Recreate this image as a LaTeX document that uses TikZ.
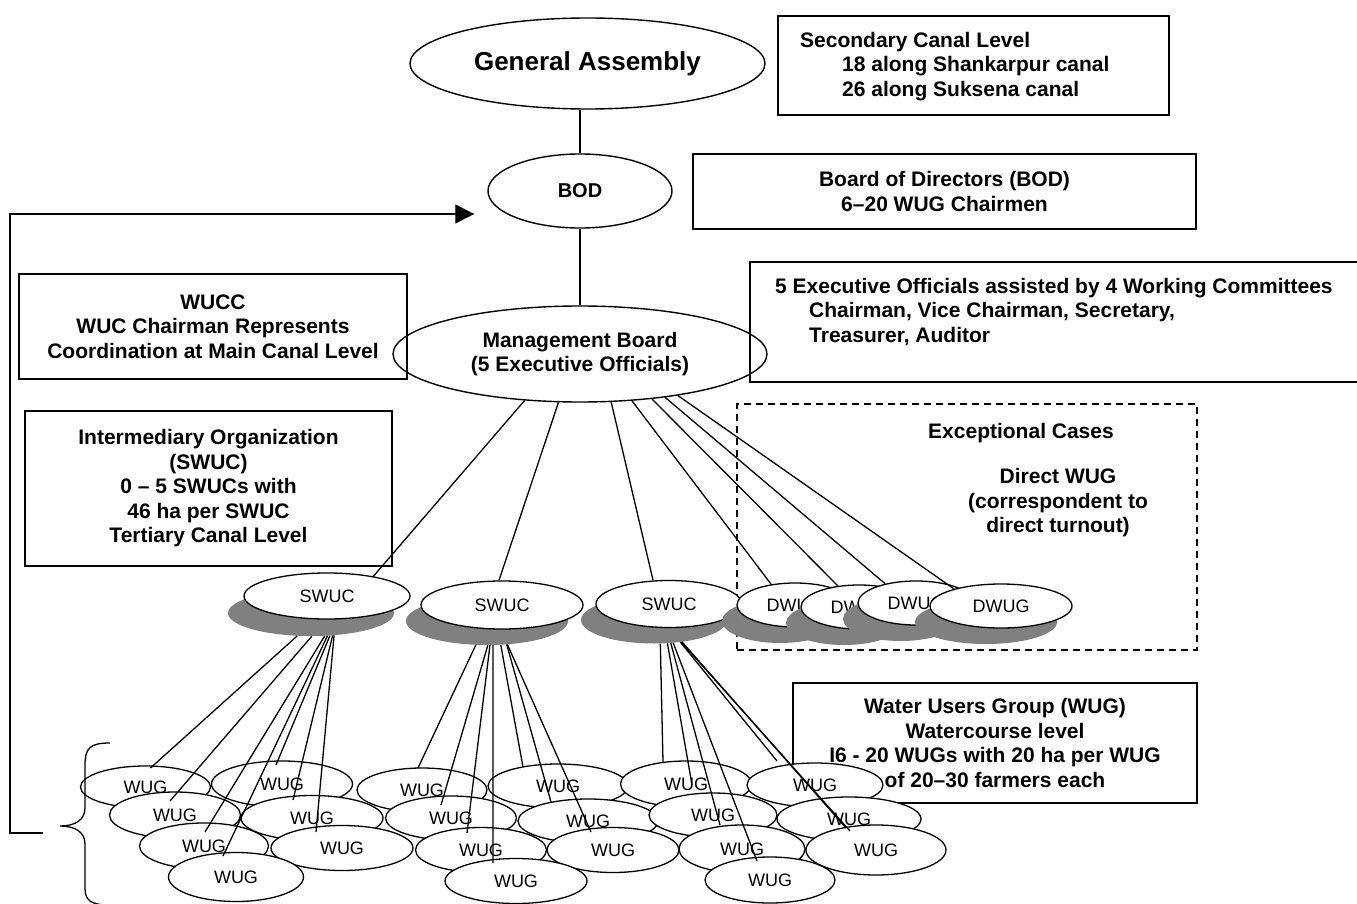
\documentclass[tikz,border=0pt]{standalone}
\usepackage{fontspec}
\setmainfont{Liberation Sans}
\usetikzlibrary{shapes.geometric,arrows.meta}
\definecolor{shadowgray}{RGB}{128,128,128}
\begin{document}
\begin{tikzpicture}%
	[x={(1pt, 0pt)},
	y={(0pt, -1pt)},
	conn/.style={color=black, line width=1.3pt},
	box/.style={rectangle, draw=black, line width=1.4pt, inner sep=0pt},
	dashbox/.style={rectangle, draw=black, line width=1.4pt, dash pattern=on 7pt off 5pt, inner sep=0pt},
	boxtext/.style={inner sep=0pt, font=\fontsize{21}{24.5}\selectfont\bfseries},
	org/.style={ellipse, draw=black, line width=1.4pt, inner sep=0pt, font=\fontsize{21}{24.5}\selectfont\bfseries},
	wugnode/.style={ellipse, draw=black, line width=1.3pt, fill=white, inner sep=0pt, font=\fontsize{18}{21}\selectfont},
	dropshade/.style={ellipse, fill=shadowgray, inner sep=0pt},
	feedback/.style={color=black, line width=1.3pt, -{Triangle[length=19pt, width=19pt]}}]
%
\useasboundingbox (0, 0) rectangle (1357, 904);
%%
%% Drawing the association levels
%%
\node[org, minimum width=355pt, minimum height=91pt, font=\fontsize{26}{30}\selectfont\bfseries] (assembly) at (587.5, 63.5) {General Assembly};
\node[org, minimum width=184pt, minimum height=74pt, font=\fontsize{20}{24}\selectfont\bfseries] (bod) at (580, 191) {BOD};
\node[org, minimum width=374pt, minimum height=96pt, align=center] (mboard) at (580, 354) {Management Board\\(5 Executive Officials)};
\draw[conn] (assembly.south -| bod) -- (bod.north);
\draw[conn] (bod.south) -- (mboard.north);
%%
%% Drawing the boxes
%%
\node[box, minimum width=391pt, minimum height=99pt] (canallevel) at (973.5, 65.5) {};
\node[boxtext, anchor=north west, align=left] (canallevel-text) at (800, 32) {Secondary Canal Level\\\hspace*{42pt}18 along Shankarpur canal\\\hspace*{42pt}26 along Suksena canal};
\node[box, boxtext, minimum width=503pt, minimum height=75pt, align=center] (bodbox) at (944.5, 191.5) {Board of Directors (BOD)\\6–20 WUG Chairmen};
\node[box, minimum width=650pt, minimum height=120pt] (mbbox) at (1075, 322) {};
\node[boxtext, anchor=north west, align=left] (mbbox-text) at (775, 278) {5 Executive Officials assisted by 4 Working Committees\\\hspace*{34pt}Chairman, Vice Chairman, Secretary,\\\hspace*{34pt}Treasurer, Auditor};
\node[box, boxtext, minimum width=388pt, minimum height=105pt, align=center] (wucc) at (213, 326.5) {WUCC\\WUC Chairman Represents\\Coordination at Main Canal Level};
\node[box, boxtext, minimum width=367pt, minimum height=155pt, align=center] (interorg) at (208.5, 488.5) {Intermediary Organization\\(SWUC)\\0 – 5 SWUCs with\\46 ha per SWUC\\Tertiary Canal Level};
\node[dashbox, minimum width=460pt, minimum height=246pt] (exceptional) at (967, 527) {};
\node[boxtext] (exceptional-title) at (1021, 433) {Exceptional Cases};
\node[boxtext, align=center] (directwug) at (1058, 503) {Direct WUG\\(correspondent to\\direct turnout)};
\node[box, boxtext, minimum width=404pt, minimum height=120pt, align=center] (wugbox) at (995, 743) {Water Users Group (WUG)\\Watercourse level\\I6 - 20 WUGs with 20 ha per WUG\\of 20–30 farmers each};
%%
%% Drawing the SWUC and direct WUG level
%%
\node[dropshade, minimum width=166pt, minimum height=46pt] (swuc1sh) at (311, 613) {};
\node[wugnode, minimum width=166pt, minimum height=46pt] (swuc1) at (327, 596) {SWUC};
\node[dropshade, minimum width=162pt, minimum height=48pt] (swuc2sh) at (487, 621) {};
\node[wugnode, minimum width=162pt, minimum height=48pt] (swuc2) at (502, 605) {SWUC};
\node[dropshade, minimum width=146pt, minimum height=47pt] (swuc3sh) at (654, 620) {};
\node[wugnode, minimum width=146pt, minimum height=47pt] (swuc3) at (669, 604) {SWUC};
\node[dropshade, minimum width=116pt, minimum height=44pt] (dw1sh) at (780, 621) {};
\node[wugnode, minimum width=116pt, minimum height=44pt] (dw1) at (795, 605) {DWUG};
\node[dropshade, minimum width=116pt, minimum height=44pt] (dw2sh) at (844, 623) {};
\node[wugnode, minimum width=116pt, minimum height=44pt] (dw2) at (859, 607) {DWUG};
\node[dropshade, minimum width=116pt, minimum height=44pt] (dw3sh) at (901, 619) {};
\node[wugnode, minimum width=116pt, minimum height=44pt] (dw3) at (916, 603) {DWUG};
\node[dropshade, minimum width=142pt, minimum height=44pt] (dwugsh) at (986, 622) {};
\node[wugnode, minimum width=142pt, minimum height=44pt] (dwug) at (1001, 606) {DWUG};
%%
\draw[conn] (mboard.220) -- (swuc1.23);
\draw[conn] (mboard.246) -- (swuc2.97);
\draw[conn] (mboard.303) -- (swuc3.124);
\draw[conn] (mboard.318) -- (dw1.139);
\draw[conn] (mboard.328) -- (dw2.135);
\draw[conn] (mboard.333) -- (dw3.148);
\draw[conn] (mboard.337) -- (dwug.160);
%%
%% Drawing the WUG level
%%
\node[wugnode, minimum width=130pt, minimum height=42pt] (w1a) at (145.5, 787) {WUG};
\node[wugnode, minimum width=141pt, minimum height=46pt] (w1b) at (282, 784) {WUG};
\node[wugnode, minimum width=131pt, minimum height=46pt] (w1c) at (175, 815) {WUG};
\node[wugnode, minimum width=142pt, minimum height=45pt] (w1d) at (312, 818) {WUG};
\node[wugnode, minimum width=129pt, minimum height=46pt] (w1e) at (204, 846) {WUG};
\node[wugnode, minimum width=142pt, minimum height=45pt] (w1f) at (342, 848) {WUG};
\node[wugnode, minimum width=135pt, minimum height=49pt] (w1g) at (236, 877) {WUG};
%%
\node[wugnode, minimum width=130pt, minimum height=44pt] (w2a) at (422, 790) {WUG};
\node[wugnode, minimum width=140pt, minimum height=44pt] (w2b) at (558, 786) {WUG};
\node[wugnode, minimum width=131pt, minimum height=44pt] (w2c) at (451, 818) {WUG};
\node[wugnode, minimum width=140pt, minimum height=44pt] (w2d) at (588, 821) {WUG};
\node[wugnode, minimum width=131pt, minimum height=45pt] (w2e) at (481, 850) {WUG};
\node[wugnode, minimum width=132pt, minimum height=45pt] (w2f) at (613, 850) {WUG};
\node[wugnode, minimum width=142pt, minimum height=45pt] (w2g) at (516, 881) {WUG};
%%
\node[wugnode, minimum width=131pt, minimum height=46pt] (w3a) at (686, 784) {WUG};
\node[wugnode, minimum width=136pt, minimum height=44pt] (w3b) at (815, 785) {WUG};
\node[wugnode, minimum width=128pt, minimum height=44pt] (w3c) at (713, 815) {WUG};
\node[wugnode, minimum width=144pt, minimum height=44pt] (w3d) at (849, 819) {WUG};
\node[wugnode, minimum width=126pt, minimum height=48pt] (w3e) at (742, 849) {WUG};
\node[wugnode, minimum width=140pt, minimum height=50pt] (w3f) at (876, 850) {WUG};
\node[wugnode, minimum width=130pt, minimum height=46pt] (w3g) at (770, 880) {WUG};
%%
%% Drawing the SWUC to WUG links
%%
\draw[conn] (swuc1sh.239) -- ([shift={(5, -19)}]w1a.center);
\draw[conn] (swuc1sh.272) -- ([shift={(-5, -14)}]w1c.center);
\draw[conn] (swuc1sh.301) -- ([shift={(1, -14)}]w1e.center);
\draw[conn] (swuc1sh.306) -- ([shift={(-13, -21)}]w1g.center);
\draw[conn] (swuc1sh.310) -- ([shift={(-6, -19)}]w1b.center);
\draw[conn] (swuc1sh.314) -- ([shift={(-19, -18)}]w1d.center);
\draw[conn] (swuc1sh.316) -- ([shift={(-26, -16)}]w1f.center);
%%
\draw[conn] (swuc2sh.245) -- ([shift={(-4, -22)}]w2a.center);
\draw[conn] (swuc2sh.272) -- ([shift={(-10, -13)}]w2c.center);
\draw[conn] (swuc2sh.277) -- ([shift={(-14, -17)}]w2e.center);
\draw[conn] (swuc2sh.284) -- ([shift={(-23, -18)}]w2g.center);
\draw[conn] (swuc2sh.300) -- ([shift={(-35, -19)}]w2b.center);
\draw[conn] (swuc2sh.310) -- ([shift={(-37, -19)}]w2d.center);
\draw[conn] (swuc2sh.311) -- ([shift={(-22, -18)}]w2f.center);
%%
\draw[conn] (swuc3sh.285) -- ([shift={(-23, -22)}]w3a.center);
\draw[conn] (swuc3sh.300) -- ([shift={(-21, -30)}]w3c.center);
\draw[conn] (swuc3sh.306) -- ([shift={(-22, -24)}]w3e.center);
\draw[conn] (swuc3sh.310) -- ([shift={(-13, -19)}]w3g.center);
\draw[conn] (swuc3sh.320) -- ([shift={(-38, -24)}]w3b.center);
\draw[conn] (swuc3sh.321) -- ([shift={(-26, -19)}]w3f.center);
\draw[conn] (swuc3sh.322) -- ([shift={(-3, 9)}]w3d.center);
%%
%% Drawing the feedback to the BOD
%%
\coordinate (bracetip) at (43, 833);
\draw[feedback] (bracetip) -- (10, 833) |- ([shift={(-13, 23)}]bod.west);
\draw[conn] (110, 743) .. controls (90, 743) and (85, 748) .. (85, 765) -- (85, 808) .. controls (85, 820) and (75, 826) .. (60, 826) .. controls (75, 826) and (85, 832) .. (85, 844) -- (85, 888) .. controls (85, 900) and (90, 905) .. (110, 905);
%%
\end{tikzpicture}
\end{document}
